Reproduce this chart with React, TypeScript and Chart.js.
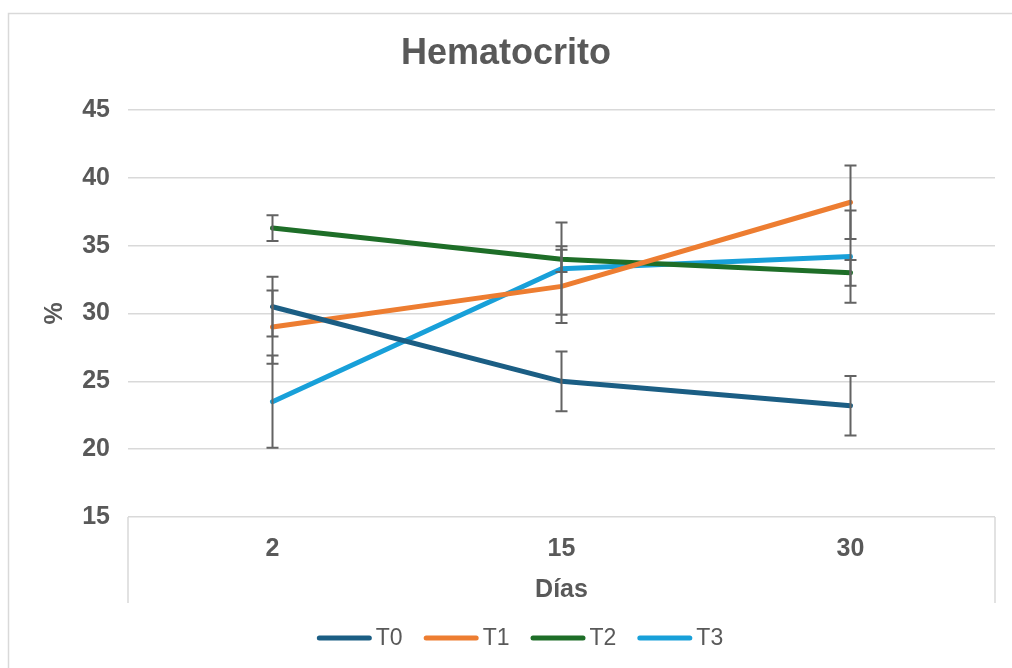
import React, { useEffect, useRef } from 'react';
import { Chart, registerables } from 'chart.js';

Chart.register(...registerables);

const days = ['2', '15', '30'];
const seriesNames = ['T0', 'T1', 'T2', 'T3'];
const t0Values = [30.5, 25.0, 23.2];
const t1Values = [29.0, 32.0, 38.2];
const t2Values = [36.3, 34.0, 33.0];
const t3Values = [23.5, 33.3, 34.2];
const t0Errors = [2.2, 2.2, 2.2];
const t1Errors = [2.7, 2.7, 2.7];
const t2Errors = [0.95, 0.95, 0.95];
const t3Errors = [3.4, 3.4, 3.4];
const seriesColors = ['#1B5E84', '#ED7D31', '#1E6E28', '#18A0D9'];
const yMin = 15;
const yMax = 45;
const yStep = 5;

const allValues = [t0Values, t1Values, t2Values, t3Values];
const allErrors = [t0Errors, t1Errors, t2Errors, t3Errors];

const TEXT = '#595959';
const GRID = '#D9D9D9';
const FONT = '"Liberation Sans", Arial, sans-serif';

const decorPlugin = {
  id: 'decor',
  beforeDraw(chart: any) {
    const ctx = chart.ctx;
    ctx.save();
    ctx.strokeStyle = GRID;
    ctx.lineWidth = 1.5;
    ctx.beginPath();
    ctx.moveTo(8.5, 700);
    ctx.lineTo(8.5, 13.5);
    ctx.lineTo(1100, 13.5);
    ctx.stroke();
    ctx.restore();
  },
  afterDatasetsDraw(chart: any) {
    const ctx = chart.ctx;
    const ys = chart.scales.y;
    ctx.save();
    ctx.strokeStyle = '#636363';
    ctx.lineWidth = 2;
    chart.data.datasets.forEach((ds: any, i: number) => {
      const meta = chart.getDatasetMeta(i);
      meta.data.forEach((pt: any, j: number) => {
        const v = ds.data[j];
        const e = allErrors[i][j];
        const x = pt.x;
        const top = ys.getPixelForValue(v + e);
        const bot = ys.getPixelForValue(v - e);
        ctx.beginPath();
        ctx.moveTo(x, top);
        ctx.lineTo(x, bot);
        ctx.moveTo(x - 6, top);
        ctx.lineTo(x + 6, top);
        ctx.moveTo(x - 6, bot);
        ctx.lineTo(x + 6, bot);
        ctx.stroke();
      });
    });
    ctx.restore();
  },
  afterDraw(chart: any) {
    const ctx = chart.ctx;
    const area = chart.chartArea;
    ctx.save();
    ctx.strokeStyle = GRID;
    ctx.lineWidth = 1.5;
    ctx.beginPath();
    ctx.moveTo(area.left, area.bottom);
    ctx.lineTo(area.left, 603);
    ctx.moveTo(area.right, area.bottom);
    ctx.lineTo(area.right, 603);
    ctx.stroke();
    ctx.font = `23px ${FONT}`;
    ctx.textBaseline = 'middle';
    ctx.textAlign = 'left';
    const lineLen = 55;
    const gapText = 4;
    const gapItem = 21;
    const widths = seriesNames.map((n) => lineLen + gapText + ctx.measureText(n).width);
    const total = widths.reduce((a, b) => a + b, 0) + gapItem * (seriesNames.length - 1);
    let x = 520 - total / 2;
    const ly = 638;
    seriesNames.forEach((n, i) => {
      ctx.strokeStyle = seriesColors[i];
      ctx.lineWidth = 5;
      ctx.lineCap = 'round';
      ctx.beginPath();
      ctx.moveTo(x + 2.5, ly);
      ctx.lineTo(x + lineLen - 2.5, ly);
      ctx.stroke();
      ctx.fillStyle = TEXT;
      ctx.fillText(n, x + lineLen + gapText, ly + 1);
      x += widths[i] + gapItem;
    });
    ctx.restore();
  },
};

export default function App() {
  const ref = useRef<HTMLCanvasElement | null>(null);
  useEffect(() => {
    if (!ref.current) return;
    const chart = new Chart(ref.current, {
      type: 'line',
      data: {
        labels: days,
        datasets: seriesNames.map((name, i) => ({
          label: name,
          data: allValues[i],
          borderColor: seriesColors[i],
          backgroundColor: seriesColors[i],
          borderWidth: 5,
          pointRadius: 0,
          tension: 0,
          borderCapStyle: 'round',
          borderJoinStyle: 'round',
          fill: false,
        })),
      },
      options: {
        responsive: false,
        animation: false,
        devicePixelRatio: 1,
        layout: { padding: { left: 0, right: 0, top: 0, bottom: 0 } },
        plugins: {
          legend: { display: false },
          tooltip: { enabled: false },
          title: {
            display: true,
            text: 'Hematocrito',
            color: TEXT,
            font: { family: FONT, size: 36, weight: 'bold', lineHeight: 1.2 },
            padding: { top: 32.4, bottom: 34.4 },
          },
        },
        scales: {
          x: {
            type: 'category',
            offset: true,
            grid: { display: false, drawTicks: false },
            border: { display: false },
            ticks: {
              color: TEXT,
              padding: 17,
              font: { family: FONT, size: 25, weight: 'bold' },
            },
            title: {
              display: true,
              text: 'Días',
              color: TEXT,
              font: { family: FONT, size: 25, weight: 'bold', lineHeight: 1.2 },
              padding: { top: 0, bottom: 63 },
            },
            afterFit: (scale: any) => {
              scale.height = 151;
            },
          },
          y: {
            min: yMin,
            max: yMax,
            grid: { color: GRID, lineWidth: 1.5, drawTicks: false },
            border: { display: false },
            ticks: {
              stepSize: yStep,
              color: TEXT,
              padding: 18,
              font: { family: FONT, size: 25, weight: 'bold' },
            },
            title: {
              display: true,
              text: '%',
              color: TEXT,
              font: { family: FONT, size: 25, weight: 'bold', lineHeight: 1.2 },
              padding: { top: 40, bottom: 0 },
            },
            afterFit: (scale: any) => {
              scale.width = 128;
            },
          },
          yRight: {
            position: 'right',
            min: yMin,
            max: yMax,
            grid: { display: false, drawTicks: false },
            border: { display: false },
            ticks: { display: false },
            afterFit: (scale: any) => {
              scale.width = 17;
            },
          },
        },
      },
      plugins: [decorPlugin],
    } as any);
    return () => chart.destroy();
  }, []);
  return (
    <div style={{ position: 'absolute', left: 0, top: 0, width: 1012, height: 668, background: '#fff' }}>
      <canvas ref={ref} width={1012} height={668} style={{ width: 1012, height: 668, display: 'block' }} />
    </div>
  );
}
